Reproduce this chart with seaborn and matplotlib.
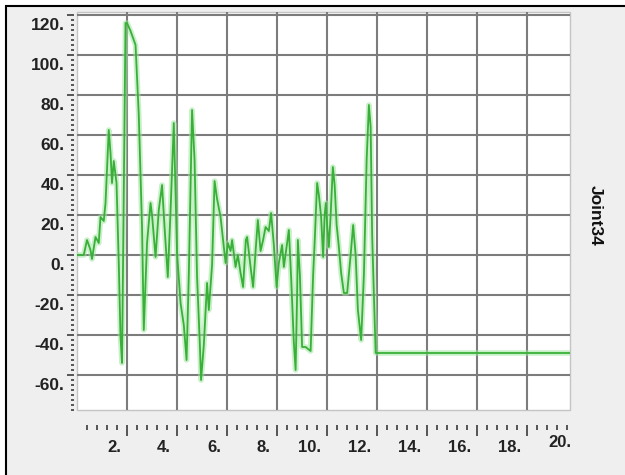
import matplotlib
matplotlib.use("Agg")
import matplotlib.pyplot as plt
import seaborn as sns
import pandas as pd
from matplotlib.patches import Rectangle
from matplotlib.transforms import ScaledTranslation, blended_transform_factory
from matplotlib.ticker import MultipleLocator

# ---- data ----
time_s = [0.0, 0.28, 0.41, 0.55, 0.61, 0.75, 0.88, 0.95, 1.08, 1.15, 1.28, 1.35,
          1.41, 1.48, 1.59, 1.68, 1.75, 1.81, 1.95, 2.01, 2.15, 2.28, 2.35, 2.48,
          2.61, 2.68, 2.81, 2.95, 3.01, 3.15, 3.28, 3.41, 3.51, 3.64, 3.75, 3.88,
          4.01, 4.15, 4.28, 4.39, 4.48, 4.61, 4.71, 4.81, 4.92, 4.97, 5.08, 5.21,
          5.28, 5.41, 5.51, 5.61, 5.75, 5.95, 6.04, 6.15, 6.21, 6.35, 6.44, 6.55,
          6.65, 6.76, 6.81, 6.95, 7.05, 7.15, 7.24, 7.35, 7.45, 7.55, 7.68, 7.77,
          7.88, 7.99, 8.08, 8.21, 8.28, 8.41, 8.48, 8.57, 8.68, 8.75, 8.81, 8.84,
          8.92, 9.01, 9.15, 9.35, 9.45, 9.51, 9.61, 9.68, 9.77, 9.85, 9.91, 9.96,
          10.01, 10.08, 10.15, 10.24, 10.31, 10.39, 10.48, 10.57, 10.68, 10.81,
          10.95, 11.05, 11.15, 11.24, 11.37, 11.48, 11.59, 11.68, 11.75, 11.81,
          11.88, 11.95, 20.0]
joint34 = [0, 0, 7.5, 2.5, -2, 9, 6, 19, 17, 26, 62.5, 51,
           36, 47, 36, -4, -41, -54, 116, 116, 112, 107.5, 105, 70,
           14, -37.5, 6, 26, 20, -1, 22.5, 35, 14, -11, 22, 66,
           1, -24, -35, -52.5, -10, 72.5, 47.5, -11, -44, -62.5, -45, -14,
           -27.5, -5, 37, 28, 19, -4, 6, 2, 7.5, -6, 0, -9,
           -16, 7.5, 9, -6, -16, 2, 17.5, 2, 7.5, 14, 12, 21,
           5, -16, -4, 5, -6, 6, 12.5, -11, -44, -57.5, -20, 7.5,
           -10, -46, -46, -48, -10, 6, 36, 30, 19, -1, 20, 26,
           15, 4, 20, 44, 35, 15, 4, -9, -19, -19,
           0, 15, 0, -27.5, -42.5, -10, 47.5, 75, 64, 10,
           -20, -49, -49]

x_ticks = [2, 4, 6, 8, 10, 12, 14, 16, 18]
x_tick_labels = ["2.", "4.", "6.", "8.", "10.", "12.", "14.", "16.", "18."]
x_last_label = "20."
y_ticks = [-60, -40, -20, 0, 20, 40, 60, 80, 100, 120]
y_tick_labels = ["-60.", "-40.", "-20.", "0.", "20.", "40.", "60.", "80.", "100.", "120."]
series_label = "Joint34"

# ---- style ----
sns.set_style("white")
plt.rcParams["font.family"] = ["Liberation Sans", "DejaVu Sans"]

W, H = 625, 475
DPI = 100
fig = plt.figure(figsize=(W / DPI, H / DPI), dpi=DPI, facecolor="white")

# light grey panel with black top/left border
bg = Rectangle((5.5 / W, -0.05), 1.2, 1 - 6.5 / H + 0.05, transform=fig.transFigure,
               facecolor="#efefef", edgecolor="black", linewidth=1.5, zorder=-5)
fig.add_artist(bg)

ax = fig.add_axes([77 / W, 1 - 410 / H, (570 - 77) / W, (410 - 12) / H])
ax.set_facecolor("white")
ax.patch.set_edgecolor("#c4c4c4")
ax.patch.set_linewidth(1.0)

df = pd.DataFrame({"t": time_s, "v": joint34})
# soft glow + core line
sns.lineplot(data=df, x="t", y="v", color="#9ee49e", linewidth=4.0, alpha=0.55,
             estimator=None, sort=False, ax=ax, zorder=3)
sns.lineplot(data=df, x="t", y="v", color="#38b038", linewidth=1.3,
             estimator=None, sort=False, ax=ax, zorder=4)

ax.set_xlim(0.01, 19.72)
ax.set_ylim(-77.5, 121.5)
ax.set_xlabel("")
ax.set_ylabel("")
ax.set_xticks(x_ticks, x_tick_labels)
ax.set_yticks(y_ticks, y_tick_labels)
ax.xaxis.set_minor_locator(MultipleLocator(0.4))
ax.yaxis.set_minor_locator(MultipleLocator(2.5))

ax.grid(True, which="major", color="#7c7c7c", linewidth=1.5)
ax.grid(False, which="minor")

for s in ["top", "right"]:
    ax.spines[s].set_visible(False)
ax.spines["left"].set_position(("outward", 2))
ax.spines["left"].set_color("none")
ax.spines["bottom"].set_position(("outward", 11))
ax.spines["bottom"].set_color("none")

tick_col = "#3a3a3a"
lab_col = "#222222"
FSX = 12
FSY = 12.5
ax.tick_params(axis="x", which="major", direction="out", length=7.9, width=1.2,
               color=tick_col, pad=2.5, labelsize=FSX, labelcolor=lab_col, bottom=True)
ax.tick_params(axis="x", which="minor", direction="out", length=3.6, width=1.2,
               color=tick_col, bottom=True)
ax.tick_params(axis="y", which="major", direction="out", length=5, width=1.2,
               color=tick_col, pad=2, labelsize=FSY, labelcolor=lab_col, left=True)
ax.tick_params(axis="y", which="minor", direction="out", length=2.2, width=1.2,
               color=tick_col, left=True)

for lbl in ax.get_xticklabels():
    lbl.set_horizontalalignment("right")
    lbl.set_fontweight("bold")
    lbl.set_transform(lbl.get_transform() + ScaledTranslation(-6 / DPI, 0, fig.dpi_scale_trans))
for lbl in ax.get_yticklabels():
    lbl.set_fontweight("bold")
    lbl.set_transform(lbl.get_transform() + ScaledTranslation(0, -9.5 / DPI, fig.dpi_scale_trans))

# last label "20." sits just past the right edge of the plot
pad_px = 11 + 7.9 * DPI / 72 + 2.5 * DPI / 72
ax.text(20, 0, x_last_label,
        transform=blended_transform_factory(ax.transData, ax.transAxes)
        + ScaledTranslation(-6 / DPI, -pad_px / DPI, fig.dpi_scale_trans),
        ha="right", va="top", fontsize=FSX, fontweight="bold", color=lab_col, clip_on=False)

fig.text(595 / W, 1 - 215 / H, series_label, rotation=270, ha="center", va="center",
         fontsize=12.5, fontweight="bold", color="#111111")

fig.savefig("out.png", dpi=DPI, facecolor=fig.get_facecolor())
